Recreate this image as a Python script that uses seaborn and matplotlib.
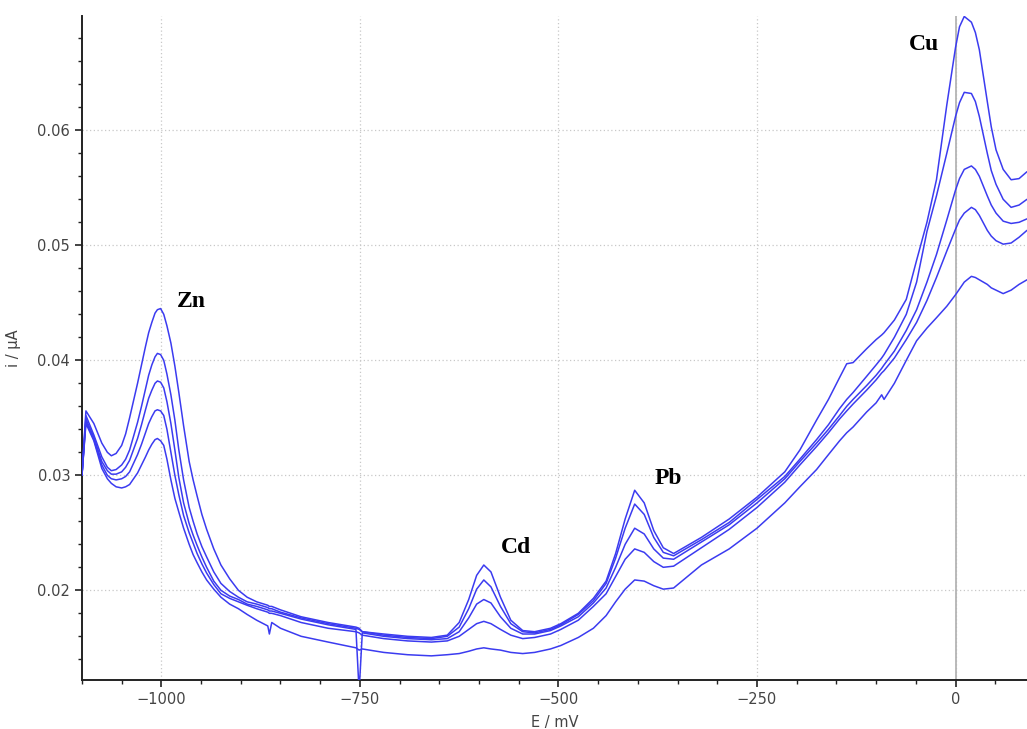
import numpy as np
import pandas as pd
import seaborn as sns
import matplotlib
matplotlib.use('Agg')
import matplotlib.pyplot as plt
from matplotlib.ticker import MultipleLocator, FormatStrFormatter

# Potencial (mV), rejilla común para las cinco curvas
E = [-1100, -1095, -1085, -1075, -1068, -1063, -1057, -1050, -1045, -1040,
     -1030, -1025, -1020, -1016, -1012, -1008, -1005, -1001, -997, -993,
     -988, -983, -978, -972, -965, -960, -955, -949, -943, -934,
     -925, -914, -903, -892, -880,
     -866, -864, -861, -850, -824, -790, -755, -751, -747, -720,
     -690, -660, -640, -625, -613, -603, -594, -585, -573, -560,
     -545, -530, -510, -497, -475, -456, -440, -428, -416, -404,
     -392, -380, -368, -355, -320, -285, -250, -215, -196, -175,
     -160, -146, -137, -129, -112, -100, -93, -90, -77, -62,
     -49, -36, -24, -11, 0, 5, 11, 20, 25, 30,
     40, 45, 51, 60, 70, 80, 90]

# Corriente (µA) de cada barrido, de mayor a menor concentración
i1 = [0.0300, 0.0356, 0.0345, 0.0328, 0.0320, 0.0317, 0.0319, 0.0326, 0.0336, 0.0350,
      0.0380, 0.0396, 0.0412, 0.0424, 0.0433, 0.0441, 0.0444, 0.0445, 0.0440, 0.0430,
      0.0415, 0.0395, 0.0372, 0.0343, 0.0312, 0.0296, 0.0282, 0.0266, 0.0253, 0.0236,
      0.0222, 0.0210, 0.0200, 0.0194, 0.0190,
      0.0187, 0.0186, 0.0186, 0.0183, 0.0177, 0.0172, 0.0168, 0.0167, 0.0164, 0.0162,
      0.0160, 0.0159, 0.0161, 0.0172, 0.0192, 0.0213, 0.0222, 0.0216, 0.0194, 0.0174,
      0.0165, 0.0164, 0.0167, 0.0171, 0.0180, 0.0193, 0.0208, 0.0232, 0.0262, 0.0287,
      0.0276, 0.0252, 0.0237, 0.0232, 0.0246, 0.0262, 0.0281, 0.0303, 0.0322, 0.0348,
      0.0366, 0.0385, 0.0397, 0.0398, 0.0410, 0.0418, 0.0422, 0.0424, 0.0435, 0.0453,
      0.0487, 0.0520, 0.0557, 0.0622, 0.0672, 0.0690, 0.0699, 0.0694, 0.0685, 0.0670,
      0.0625, 0.0603, 0.0583, 0.0566, 0.0557, 0.0558, 0.0564]
i2 = [0.0300, 0.0352, 0.0335, 0.0316, 0.0307, 0.0304, 0.0305, 0.0309, 0.0314, 0.0322,
      0.0346, 0.0360, 0.0375, 0.0387, 0.0396, 0.0403, 0.0406, 0.0405, 0.0400, 0.0388,
      0.0370, 0.0348, 0.0322, 0.0296, 0.0272, 0.0260, 0.0249, 0.0238, 0.0229, 0.0216,
      0.0206, 0.0199, 0.0194, 0.0190, 0.0188,
      0.0185, 0.0184, 0.0184, 0.0181, 0.0176, 0.0171, 0.0167, 0.0166, 0.0164, 0.0161,
      0.0159, 0.0158, 0.0160, 0.0168, 0.0184, 0.0201, 0.0209, 0.0203, 0.0186, 0.0171,
      0.0164, 0.0163, 0.0166, 0.0170, 0.0179, 0.0191, 0.0206, 0.0228, 0.0254, 0.0275,
      0.0266, 0.0246, 0.0233, 0.0230, 0.0244, 0.0259, 0.0279, 0.0299, 0.0314, 0.0331,
      0.0344, 0.0358, 0.0366, 0.0372, 0.0386, 0.0396, 0.0402, 0.0405, 0.0420, 0.0440,
      0.0468, 0.0512, 0.0543, 0.0580, 0.0612, 0.0624, 0.0633, 0.0632, 0.0625, 0.0612,
      0.0580, 0.0565, 0.0553, 0.0540, 0.0533, 0.0535, 0.0540]
i3 = [0.0300, 0.0349, 0.0333, 0.0312, 0.0304, 0.0301, 0.0301, 0.0303, 0.0307, 0.0313,
      0.0332, 0.0344, 0.0357, 0.0367, 0.0374, 0.0380, 0.0382, 0.0381, 0.0376, 0.0364,
      0.0345, 0.0322, 0.0298, 0.0276, 0.0258, 0.0248, 0.0239, 0.0229, 0.0220, 0.0208,
      0.0200, 0.0195, 0.0192, 0.0188, 0.0186,
      0.0183, 0.0182, 0.0182, 0.0180, 0.0175, 0.0170, 0.0166, 0.0112, 0.0163, 0.0160,
      0.0158, 0.0157, 0.0158, 0.0164, 0.0176, 0.0188, 0.0192, 0.0189, 0.0177, 0.0167,
      0.0162, 0.0162, 0.0165, 0.0169, 0.0177, 0.0189, 0.0202, 0.0220, 0.0240, 0.0254,
      0.0249, 0.0236, 0.0228, 0.0227, 0.0242, 0.0257, 0.0276, 0.0297, 0.0312, 0.0328,
      0.0340, 0.0352, 0.0360, 0.0366, 0.0378, 0.0387, 0.0393, 0.0396, 0.0408, 0.0426,
      0.0444, 0.0468, 0.0492, 0.0522, 0.0548, 0.0558, 0.0566, 0.0569, 0.0566, 0.0560,
      0.0543, 0.0535, 0.0528, 0.0521, 0.0519, 0.0520, 0.0523]
i4 = [0.0300, 0.0347, 0.0331, 0.0309, 0.0300, 0.0297, 0.0296, 0.0297, 0.0299, 0.0303,
      0.0318, 0.0327, 0.0337, 0.0345, 0.0351, 0.0356, 0.0357, 0.0356, 0.0352, 0.0340,
      0.0320, 0.0300, 0.0283, 0.0265, 0.0250, 0.0241, 0.0232, 0.0223, 0.0215, 0.0205,
      0.0197, 0.0193, 0.0190, 0.0187, 0.0184,
      0.0181, 0.0180, 0.0180, 0.0178, 0.0172, 0.0167, 0.0164, 0.0163, 0.0161, 0.0158,
      0.0156, 0.0155, 0.0156, 0.0160, 0.0166, 0.0171, 0.0173, 0.0171, 0.0166, 0.0161,
      0.0158, 0.0159, 0.0162, 0.0166, 0.0174, 0.0186, 0.0197, 0.0212, 0.0227, 0.0236,
      0.0233, 0.0225, 0.0220, 0.0221, 0.0237, 0.0253, 0.0272, 0.0294, 0.0309, 0.0325,
      0.0337, 0.0349, 0.0356, 0.0362, 0.0374, 0.0383, 0.0389, 0.0391, 0.0402, 0.0418,
      0.0433, 0.0452, 0.0472, 0.0495, 0.0514, 0.0522, 0.0528, 0.0533, 0.0531, 0.0526,
      0.0513, 0.0508, 0.0504, 0.0501, 0.0502, 0.0507, 0.0513]
i5 = [0.0300, 0.0345, 0.0330, 0.0306, 0.0297, 0.0293, 0.0290, 0.0289, 0.0290, 0.0292,
      0.0302, 0.0309, 0.0316, 0.0322, 0.0327, 0.0331, 0.0332, 0.0330, 0.0326, 0.0314,
      0.0296, 0.0280, 0.0268, 0.0254, 0.0240, 0.0231, 0.0224, 0.0216, 0.0209, 0.0201,
      0.0194, 0.0188, 0.0184, 0.0179, 0.0174,
      0.0169, 0.0162, 0.0172, 0.0167, 0.0160, 0.0155, 0.0150, 0.0148, 0.0149, 0.0146,
      0.0144, 0.0143, 0.0144, 0.0145, 0.0147, 0.0149, 0.0150, 0.0149, 0.0148, 0.0146,
      0.0145, 0.0146, 0.0149, 0.0152, 0.0159, 0.0167, 0.0178, 0.0190, 0.0201, 0.0209,
      0.0208, 0.0204, 0.0201, 0.0202, 0.0222, 0.0236, 0.0254, 0.0276, 0.0290, 0.0305,
      0.0318, 0.0330, 0.0337, 0.0342, 0.0355, 0.0363, 0.0370, 0.0366, 0.0380, 0.0400,
      0.0417, 0.0428, 0.0437, 0.0447, 0.0457, 0.0462, 0.0468, 0.0473, 0.0472, 0.0470,
      0.0466, 0.0463, 0.0461, 0.0458, 0.0461, 0.0466, 0.0470]

picos = ["Zn", "Cd", "Pb", "Cu"]
pico_E = [-962, -554, -362, -40]
pico_i = [0.0451, 0.0237, 0.0297, 0.0675]

series = [i1, i2, i3, i4, i5]
df = pd.concat([pd.DataFrame({"E": E, "i": s, "curva": f"c{k+1}"})
                for k, s in enumerate(series)], ignore_index=True)

sns.set_style("white")
plt.rcParams['font.family'] = ['DejaVu Sans']

fig = plt.figure(figsize=(10.27, 7.29), dpi=100)
ax = fig.add_axes([0.0798, 0.0672, 0.9202, 0.9115])

azul = "#3b3bf0"
ax.axvline(0, color="#b4b4b4", lw=1.3, zorder=1)
sns.lineplot(data=df, x="E", y="i", hue="curva", palette=[azul] * 5,
             estimator=None, sort=False, legend=False, linewidth=1.1, ax=ax, zorder=3)

for txt, xe, yi in zip(picos, pico_E, pico_i):
    ax.text(xe, yi, txt, family="Liberation Serif", fontweight="bold",
            fontsize=17, ha="center", va="center", color="black")

ax.set_xlim(-1100, 90)
ax.set_ylim(0.0122, 0.06998)
ax.xaxis.set_major_locator(MultipleLocator(250))
ax.xaxis.set_minor_locator(MultipleLocator(50))
ax.yaxis.set_major_locator(MultipleLocator(0.01))
ax.yaxis.set_minor_locator(MultipleLocator(0.002))
ax.yaxis.set_major_formatter(FormatStrFormatter('%.2f'))

ax.grid(True, which="major", color="#c8c8c8", linestyle=(0, (1, 2)), linewidth=0.9)
ax.set_axisbelow(True)

for s in ["top", "right"]:
    ax.spines[s].set_visible(False)
for s in ["left", "bottom"]:
    ax.spines[s].set_color("#222222")
    ax.spines[s].set_linewidth(1.4)

ax.tick_params(which="major", length=5, width=1.2, color="#222222",
               labelsize=10.5, labelcolor="#444444", left=True, bottom=True)
ax.tick_params(which="minor", length=3, width=1.0, color="#222222", left=True, bottom=True)

ax.set_xlabel("E / mV", fontsize=10.5, color="#444444", labelpad=6)
ax.set_ylabel("i / µA", fontsize=10.5, color="#444444", labelpad=12)

plt.savefig("out.png", dpi=100)
